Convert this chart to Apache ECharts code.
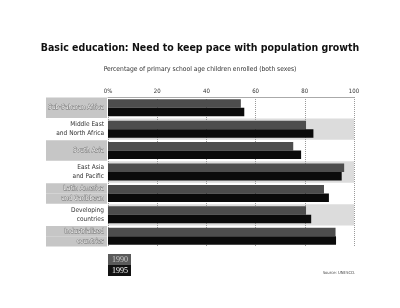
<!DOCTYPE html>
<html>
<head>
<meta charset="utf-8">
<script src="https://cdn.jsdelivr.net/npm/echarts@6/dist/echarts.min.js"></script>
<style>
  html, body { margin: 0; padding: 0; background: #fff; }
  #chart { width: 400px; height: 308px; }
</style>
</head>
<body>
<div id="chart"></div>
<script>
// categories, top to bottom
const regions = [
  'Sub-Saharan Africa',
  'Middle East\nand North Africa',
  'South Asia',
  'East Asia\nand Pacific',
  'Latin America\nand Caribbean',
  'Developing\ncountries',
  'Industrialized\ncountries'
];
// enrolment, percent
const enrol1990 = [54, 80.5, 75.3, 96, 87.8, 80.5, 92.5];
const enrol1995 = [55.4, 83.5, 78.5, 95, 89.8, 82.6, 92.7];
const xTicks = [0, 20, 40, 60, 80, 100];

const chart = echarts.init(document.getElementById('chart'));

const FONT = 'DejaVu Sans';

// shaded label rows: 0, 2, 4, 6
function labelFmt(value, index) {
  const lines = value.split('\n');
  let key = 'p';
  if (index % 2 === 0) key = lines.length > 1 ? 's2' : 's1';
  return lines.map(function (line) {
    return '{' + key + '|' + line + '}';
  }).join('\n');
}

const shaded = {
  backgroundColor: '#c6c6c6',
  color: '#ffffff',
  textBorderColor: '#6e6e6e',
  textBorderWidth: 0.8,
  fontSize: 6.5,
  fontWeight: 'normal condensed',
  fontFamily: FONT,
  width: 58,
  align: 'right',
  padding: [0, 3, 0, 0]
};

const option = {
  animation: false,
  backgroundColor: '#fff',
  title: [{
    text: 'Basic education: Need to keep pace with population growth',
    left: 'center',
    top: 38,
    textStyle: {
      fontFamily: FONT,
      fontWeight: 'bold condensed',
      fontSize: 10.5,
      color: '#111'
    }
  }, {
    text: 'Percentage of primary school age children enrolled (both sexes)',
    left: 'center',
    top: 61,
    textStyle: {
      fontFamily: FONT,
      fontWeight: 'normal condensed',
      fontSize: 6.7,
      color: '#333'
    }
  }, {
    text: 'Source: UNESCO.',
    right: 40,
    top: 266,
    textStyle: {
      fontFamily: FONT,
      fontWeight: 'normal condensed',
      fontSize: 4.2,
      color: '#444'
    }
  }],
  legend: {
    orient: 'vertical',
    left: 103,
    top: 254,
    padding: 0,
    itemGap: 0,
    itemWidth: 0,
    itemHeight: 0,
    selectedMode: false,
    data: [{
      name: '1990',
      textStyle: { backgroundColor: '#5a5a5a', color: '#ccc', padding: [2, 4, 1, 4] }
    }, {
      name: '1995',
      textStyle: { backgroundColor: '#111', color: '#fff', padding: [2, 4, 1, 4] }
    }],
    textStyle: {
      fontFamily: 'Liberation Serif',
      fontSize: 8,
      width: 15
    }
  },
  grid: {
    left: 108,
    top: 97,
    width: 246,
    height: 150
  },
  xAxis: {
    type: 'value',
    position: 'top',
    min: xTicks[0],
    max: xTicks[xTicks.length - 1],
    interval: 20,
    axisLine: { show: true, lineStyle: { color: '#aaa', width: 1 } },
    axisTick: { show: false },
    axisLabel: {
      margin: 3,
      fontSize: 6,
      color: '#333',
      fontFamily: FONT,
      fontWeight: 'normal condensed',
      formatter: function (v) { return v === 0 ? '0%' : String(v); }
    },
    splitLine: {
      show: true,
      lineStyle: { color: '#999', type: 'dotted', width: 1 }
    }
  },
  yAxis: {
    type: 'category',
    inverse: true,
    data: regions,
    axisLine: { show: false },
    axisTick: { show: false },
    splitArea: {
      show: true,
      areaStyle: { color: ['rgba(0,0,0,0)', '#dcdcdc'] }
    },
    axisLabel: {
      margin: 1,
      formatter: labelFmt,
      rich: {
        s1: Object.assign({}, shaded, { height: 20.5, lineHeight: 20.5 }),
        s2: Object.assign({}, shaded, { height: 10.3, lineHeight: 10.3 }),
        p: {
          color: '#333',
          fontSize: 6.5,
          fontFamily: FONT,
          fontWeight: 'normal condensed',
          width: 58,
          align: 'right',
          padding: [0, 3, 0, 0],
          lineHeight: 9
        }
      }
    }
  },
  series: [{
    name: '1990',
    type: 'bar',
    data: enrol1990,
    barWidth: 8.5,
    barGap: '0%',
    itemStyle: { color: '#4d4d4d' }
  }, {
    name: '1995',
    type: 'bar',
    data: enrol1995,
    barWidth: 8.5,
    barGap: '0%',
    itemStyle: { color: '#0b0b0b' }
  }]
};

chart.setOption(option);
</script>
</body>
</html>
